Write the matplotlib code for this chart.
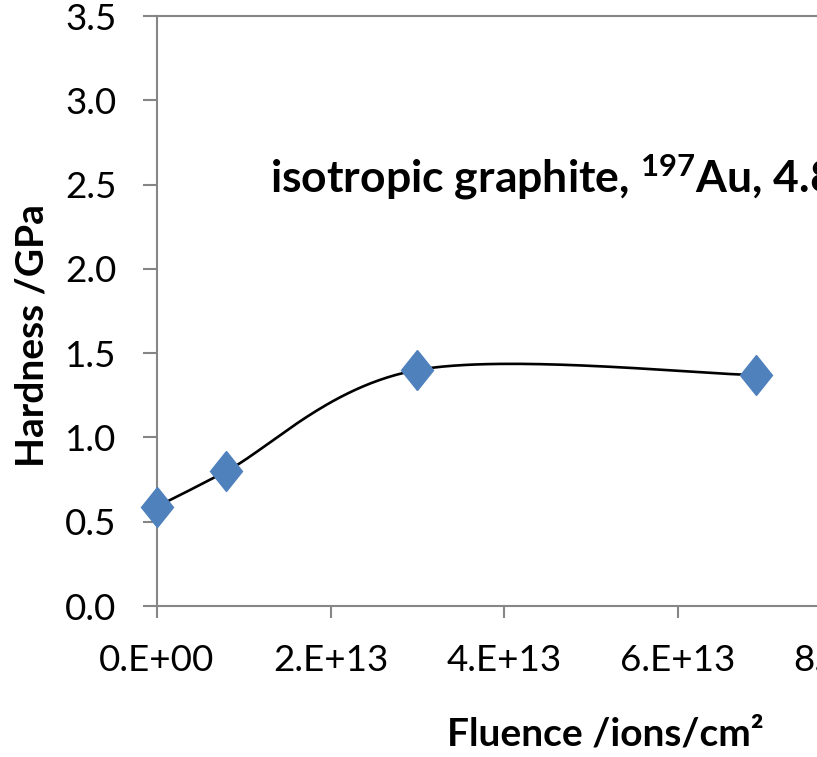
import numpy as np
import matplotlib
matplotlib.use("Agg")
import matplotlib.pyplot as plt
from matplotlib.markers import MarkerStyle
from matplotlib.transforms import Affine2D

plt.rcParams['font.family'] = ['Lato', 'DejaVu Sans']
plt.rcParams['mathtext.fontset'] = 'custom'
plt.rcParams['mathtext.rm'] = 'Lato'
plt.rcParams['mathtext.bf'] = 'Lato:bold'

fluence = [0.0, 8e12, 3e13, 6.9e13]
hardness = [0.59, 0.80, 1.40, 1.37]
xticks = [0, 2e13, 4e13, 6e13, 8e13]
xtick_labels = ["0.E+00", "2.E+13", "4.E+13", "6.E+13", "8.E+13"]
yticks = [0.0, 0.5, 1.0, 1.5, 2.0, 2.5, 3.0, 3.5]


def smooth_curve(xs, ys, n=60):
    # cubic Bezier through the points, tangents from the neighbours (spreadsheet-style smoothing)
    p = np.column_stack([xs, ys])
    pts = np.vstack([p[0], p, p[-1]])
    out = []
    t = np.linspace(0, 1, n)[:, None]
    for i in range(1, len(pts) - 2):
        p0, p3 = pts[i], pts[i + 1]
        c1 = p0 + (pts[i + 1] - pts[i - 1]) / 6
        c2 = p3 - (pts[i + 2] - pts[i]) / 6
        seg = ((1 - t) ** 3) * p0 + 3 * ((1 - t) ** 2) * t * c1 + 3 * (1 - t) * t ** 2 * c2 + t ** 3 * p3
        out.append(seg)
    out = np.vstack(out)
    return out[:, 0], out[:, 1]


fig = plt.figure(figsize=(8.17, 7.57), dpi=100)
ax = fig.add_axes([157 / 817, 1 - 606 / 757, 694 / 817, 590 / 757])

cx, cy = smooth_curve(fluence, hardness)
ax.plot(cx, cy, color="black", lw=1.9, zorder=2)
diamond = MarkerStyle("D", transform=Affine2D().scale(0.82, 1.0))
ax.plot(fluence, hardness, linestyle="none", marker=diamond, ms=20,
        color="#4F81BD", mec="#4F81BD", zorder=3, clip_on=False)

ax.set_xlim(0, 8e13)
ax.set_ylim(0, 3.5)
ax.set_xticks(xticks)
ax.set_xticklabels(xtick_labels)
ax.set_yticks(yticks)
ax.set_yticklabels([f"{v:.1f}" for v in yticks])

axis_col = "#868686"
for side in ["left", "bottom", "top"]:
    ax.spines[side].set_color(axis_col)
    ax.spines[side].set_linewidth(1.5)
ax.spines["right"].set_visible(False)
ax.tick_params(axis="both", direction="out", color=axis_col, width=1.5,
               labelsize=26.5)
ax.tick_params(axis="y", length=10, pad=19)
ax.tick_params(axis="x", length=8.6, pad=19)

ax.text(270 / 817, 1 - 192 / 757, r"isotropic graphite, $\mathbf{^{197}}$Au, 4.8 GeV",
        transform=fig.transFigure, fontsize=32, fontweight="bold", ha="left",
        va="baseline")

fig.text(32 / 817, 1 - 336 / 757, "Hardness /GPa", rotation=90, fontsize=28,
         fontweight="bold", ha="center", va="center")
fig.text(605 / 817, 1 - 734 / 757, "Fluence /ions/cm²", fontsize=28,
         fontweight="bold", ha="center", va="center")

fig.savefig("out.png", dpi=100)
